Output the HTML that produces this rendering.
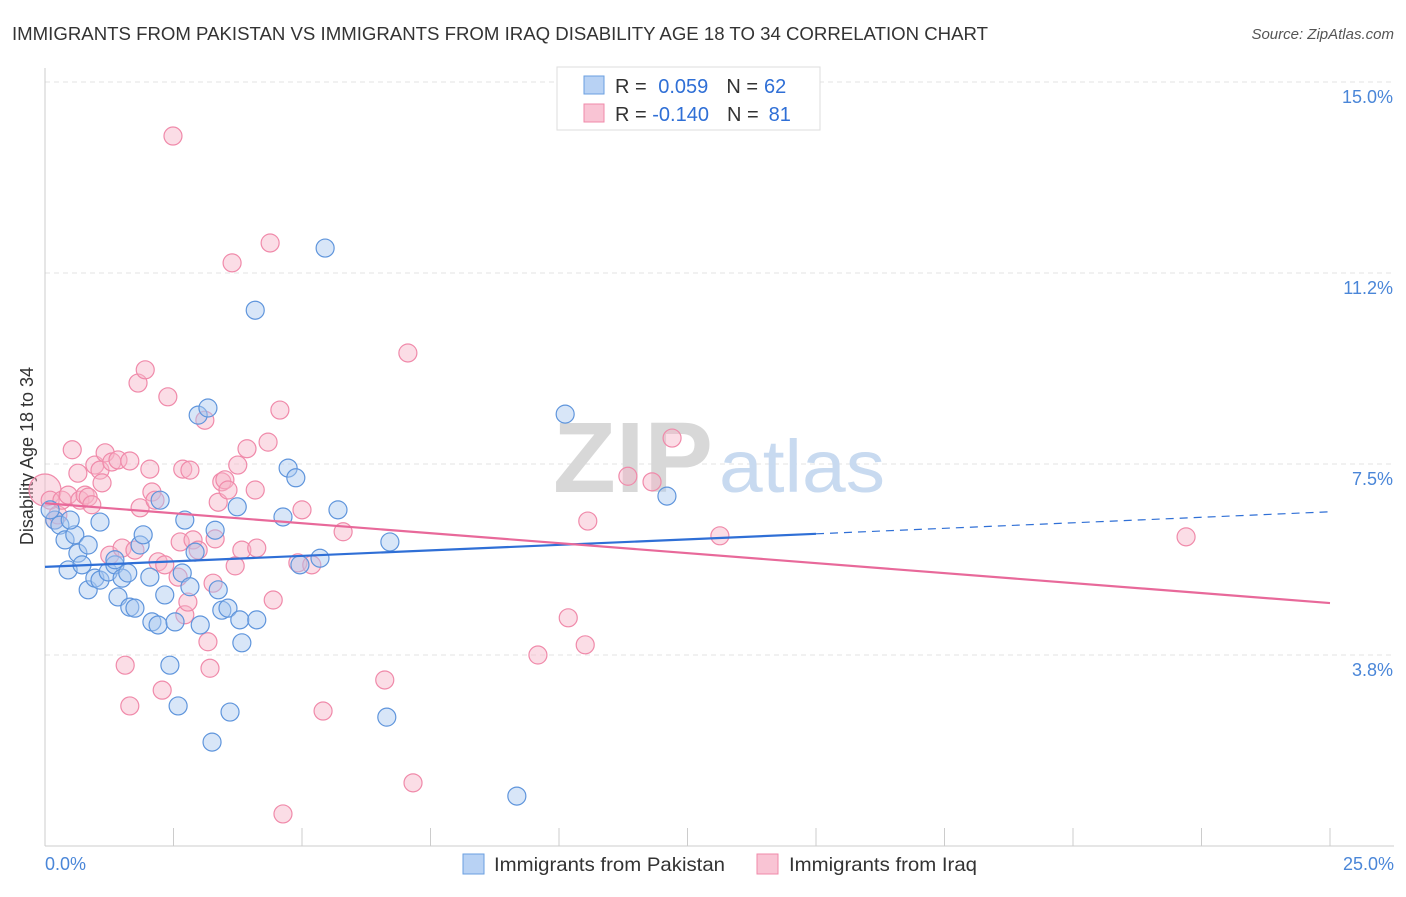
<!DOCTYPE html>
<html><head><meta charset="utf-8">
<style>
body{margin:0;background:#fff;font-family:"Liberation Sans",sans-serif;}
svg text{font-family:"Liberation Sans",sans-serif;}
</style></head>
<body>
<svg id="chart" width="1406" height="892" xmlns="http://www.w3.org/2000/svg">
<text x="12" y="40" font-size="18.5" fill="#333" textLength="976" lengthAdjust="spacingAndGlyphs">IMMIGRANTS FROM PAKISTAN VS IMMIGRANTS FROM IRAQ DISABILITY AGE 18 TO 34 CORRELATION CHART</text>
<text x="1394" y="39" font-size="15" fill="#555" font-style="italic" text-anchor="end">Source: ZipAtlas.com</text>
<g id="grid"></g>
<g>
<text x="553" y="492" font-size="100" font-family="Liberation Serif" fill="#d8d8d8" font-weight="bold" textLength="160" lengthAdjust="spacingAndGlyphs">ZIP</text>
<text x="719" y="492" font-size="74" fill="#c8daf0" textLength="166" lengthAdjust="spacingAndGlyphs">atlas</text>
</g>
<g id="axes"></g>
<g id="pts"></g>
<g id="lines"></g>
<g>
<rect x="557" y="67" width="263" height="63" fill="#fff" stroke="#ddd"/>
<rect x="584" y="76" width="20" height="18" fill="#b8d2f4" stroke="#6a9fe0"/>
<rect x="584" y="104" width="20" height="18" fill="#f9c4d4" stroke="#f08aaa"/>
<text x="615" y="93" font-size="20" fill="#333">R = <tspan fill="#2f6fd6" dx="6">0.059</tspan><tspan fill="#333" dx="18">N =</tspan><tspan fill="#2f6fd6" dx="6">62</tspan></text>
<text x="615" y="121" font-size="20" fill="#333">R = <tspan fill="#2f6fd6">-0.140</tspan><tspan fill="#333" dx="18">N =</tspan><tspan fill="#2f6fd6" dx="10">81</tspan></text>
</g>
<g>
<rect x="463" y="854" width="21" height="20" fill="#b8d2f4" stroke="#6a9fe0"/>
<text x="494" y="871" font-size="19.5" fill="#333" textLength="231" lengthAdjust="spacingAndGlyphs">Immigrants from Pakistan</text>
<rect x="757" y="854" width="21" height="20" fill="#f9c4d4" stroke="#f08aaa"/>
<text x="789" y="871" font-size="19.5" fill="#333" textLength="188" lengthAdjust="spacingAndGlyphs">Immigrants from Iraq</text>
</g>
</svg>
<script>
const yTicks=[3.8,7.5,11.2,15.0];
const yTickPos=[3.75,7.5,11.25,15.0];
const xTickLabels=["0.0%","25.0%"];
const blueX=[0.19,0.29,0.39,0.45,0.58,0.64,0.72,0.84,0.84,0.97,1.07,1.07,1.23,1.36,1.42,1.50,1.61,1.65,1.75,1.85,1.91,2.04,2.08,2.20,2.33,2.43,2.53,2.59,2.67,2.72,2.82,2.92,2.98,3.02,3.17,3.25,3.31,3.37,3.44,3.56,3.60,3.74,3.79,3.83,4.09,4.12,4.63,4.73,4.88,4.96,5.35,5.45,5.70,6.65,6.71,9.18,10.12,12.10,2.24,1.36,0.49,0.10];
const blueY=[6.40,6.30,6.01,5.42,6.11,5.75,5.52,5.03,5.91,5.26,6.36,5.22,5.38,5.52,4.89,5.26,5.36,4.69,4.67,5.91,6.11,5.28,4.40,4.34,4.93,3.55,4.40,2.75,5.36,6.40,5.09,5.77,8.46,4.34,8.60,2.04,6.20,5.03,4.63,4.67,2.63,6.66,4.44,3.99,10.52,4.44,6.46,7.42,7.23,5.52,5.65,11.74,6.60,2.53,5.97,0.98,8.48,6.87,6.79,5.62,6.40,6.60];
const pinkX=[0,0.10,0.19,0.25,0.33,0.45,0.53,0.64,0.68,0.78,0.84,0.91,0.97,1.07,1.11,1.17,1.26,1.30,1.42,1.50,1.56,1.65,1.75,1.81,1.85,1.95,2.04,2.08,2.14,2.20,2.28,2.33,2.39,2.49,2.59,2.63,2.68,2.72,2.78,2.88,2.98,3.11,3.17,3.21,3.27,3.37,3.44,3.50,3.56,3.64,3.70,3.75,3.83,3.93,4.09,4.12,4.34,4.38,4.44,4.57,4.92,5.00,5.19,5.41,5.80,6.61,7.06,7.16,9.59,10.18,10.51,10.56,11.34,11.81,12.20,13.13,22.20,4.63,1.65,3.31,2.82];
const pinkY=[6.99,6.79,6.40,6.50,6.79,6.89,7.78,7.32,6.79,6.89,6.85,6.70,7.48,7.38,7.13,7.72,5.71,7.54,7.58,5.85,3.55,2.75,5.81,9.09,6.64,9.35,7.40,6.95,6.79,5.58,3.06,5.52,8.82,13.94,5.28,5.97,7.40,4.54,4.79,6.01,5.81,8.36,4.01,3.49,5.16,6.75,7.15,7.19,6.99,11.45,5.50,7.48,5.81,7.80,6.99,5.85,7.93,11.84,4.83,8.56,5.56,6.60,5.52,2.65,6.17,3.26,9.68,1.24,3.75,4.48,3.95,6.38,7.26,7.15,8.01,6.09,6.07,0.63,7.56,6.03,7.38];
const blueLine=[5.48,0.0433];
const pinkLine=[6.73,-0.0784];
const NS="http://www.w3.org/2000/svg";
const X=v=>45+v*51.4, Y=v=>846-v*50.93;
function mk(tag,attrs,parent){const e=document.createElementNS(NS,tag);for(const k in attrs)e.setAttribute(k,attrs[k]);parent.appendChild(e);return e;}
const grid=document.getElementById('grid'),axes=document.getElementById('axes'),pts=document.getElementById('pts'),lines=document.getElementById('lines');
yTickPos.forEach((v,i)=>{
 const l=mk('line',{x1:45,x2:1394,y1:Y(v),y2:Y(v),stroke:'#e3e3e3','stroke-dasharray':'5,4'},grid);
 
 
 const t=mk('text',{x:1393,y:Y(v)+21,'font-size':18,fill:'#4a86d8','text-anchor':'end'},axes);
 t.textContent=yTicks[i].toFixed(1)+'%';
 
 
});
const ya=mk('line',{x1:45,x2:45,y1:68,y2:846,stroke:'#ccc'},axes);


const xa=mk('line',{x1:45,x2:1394,y1:846,y2:846,stroke:'#ccc'},axes);


for(let i=0;i<=10;i++){
 const t=mk('line',{x1:X(i*2.5),x2:X(i*2.5),y1:828,y2:846,stroke:'#ccc'},axes);
 
 
}
[[0,45,'start'],[25,1394,'end']].forEach((d,i)=>{
 const t=mk('text',{x:d[1],y:870,'font-size':18,fill:'#4a86d8','text-anchor':d[2]},axes);
 t.textContent=xTickLabels[i];
 
 
});
const yt=mk('text',{x:0,y:0,'font-size':18,fill:'#333','text-anchor':'middle',transform:'translate(33,456) rotate(-90)'},axes);
yt.textContent='Disability Age 18 to 34';


function dots(xs,ys,fill,stroke,name){
 xs.forEach((x,i)=>{
  const c=mk('circle',{cx:X(x),cy:Y(ys[i]),r:(x<0.05?16:9),fill:fill,'fill-opacity':0.45,stroke:stroke,'stroke-width':1.2},pts);
  
  
 });
}
dots(pinkX,pinkY,'#f7b3c8','#f08aaa','point-iraq');
dots(blueX,blueY,'#a8c8f0','#5f95dc','point-pakistan');
const b1=mk('line',{x1:X(0),y1:Y(blueLine[0]),x2:X(15),y2:Y(blueLine[0]+blueLine[1]*15),stroke:'#2f6fd6','stroke-width':2.2},lines);


const b2=mk('line',{x1:X(15),y1:Y(blueLine[0]+blueLine[1]*15),x2:X(25),y2:Y(blueLine[0]+blueLine[1]*25),stroke:'#2f6fd6','stroke-width':1.2,'stroke-dasharray':'8,6'},lines);


const p1=mk('line',{x1:X(0),y1:Y(pinkLine[0]),x2:X(25),y2:Y(pinkLine[0]+pinkLine[1]*25),stroke:'#e8699a','stroke-width':2.2},lines);


</script>
</body></html>
